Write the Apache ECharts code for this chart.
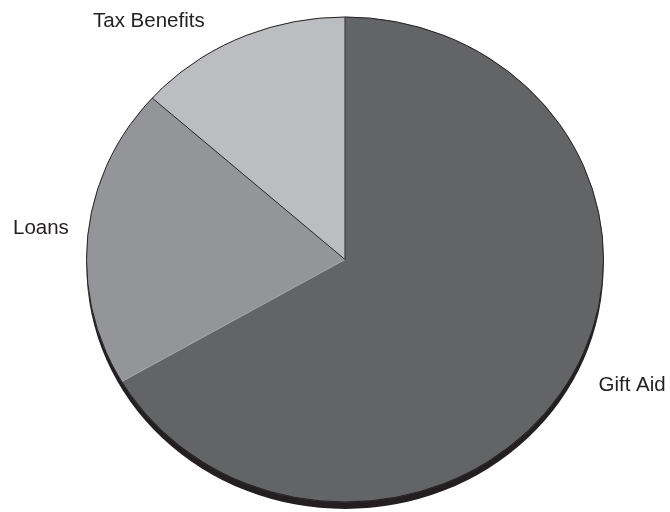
<!DOCTYPE html>
<html><head><meta charset="utf-8">
<script src="https://cdn.jsdelivr.net/npm/echarts@6.0.0/dist/echarts.min.js"></script>
<style>html,body{margin:0;padding:0;background:#fff}#c{width:670px;height:512px}</style>
</head><body><div id="c"></div>
<script>
const categories = ['Gift Aid', 'Loans', 'Tax Benefits'];
const values = [66.6, 20.0, 13.4];

const sliceColors = ['#636466', '#939598', '#bcbdc0'];
const edgeColors = ['#231f20', '#a7a9ac', '#231f20'];
const labelPos = [[598.5, 385], [13, 228.5], [93, 21.5]];
const CX = 345, CY = 259.5, RX = 258.5, RY = 242.5, DEPTH = 7;

function renderItem(params, api) {
  const i = params.dataIndex;
  const total = values.reduce((a, b) => a + b, 0);
  let before = 0;
  for (let k = 0; k < i; k++) before += values[k];
  const v = api.value(0);
  const a0 = -Math.PI / 2 + before / total * 2 * Math.PI;
  const a1 = a0 + v / total * 2 * Math.PI;
  const tf = { x: CX, y: CY, scaleY: RY / RX };
  const children = [];
  children.push(Object.assign({ type: 'sector', z2: 10,
    shape: { cx: 0, cy: 0, r: RX, r0: 0, startAngle: a0, endAngle: a1, clockwise: true },
    style: { fill: sliceColors[i], stroke: sliceColors[i], lineWidth: 0.5 } }, tf));
  children.push(Object.assign({ type: 'line', z2: 20,
    shape: { x1: 0, y1: 0, x2: RX * Math.cos(a0), y2: RX * Math.sin(a0) },
    style: { stroke: edgeColors[i], lineWidth: 1 } }, tf));
  children.push({ type: 'text', x: labelPos[i][0], y: labelPos[i][1], z2: 40,
    style: { text: categories[i], font: '20.5px "Liberation Sans", Arial, sans-serif',
      fill: '#231f20', align: 'left', verticalAlign: 'middle' } });
  if (i === 0) {
    children.push({ type: 'circle', x: CX, y: CY + DEPTH, scaleY: RY / RX, z2: 0,
      shape: { cx: 0, cy: 0, r: RX }, style: { fill: '#231f20' } });
    children.push(Object.assign({ type: 'circle', z2: 30,
      shape: { cx: 0, cy: 0, r: RX }, style: { fill: null, stroke: '#231f20', lineWidth: 1 } }, tf));
  }
  return { type: 'group', children };
}

const chart = echarts.init(document.getElementById('c'), null, { renderer: 'canvas' });
chart.setOption({
  backgroundColor: '#ffffff',
  animation: false,
  series: [{
    type: 'custom',
    coordinateSystem: 'none',
    silent: true,
    renderItem: renderItem,
    data: values.map((v, i) => ({ name: categories[i], value: [v] }))
  }]
});
</script></body></html>
